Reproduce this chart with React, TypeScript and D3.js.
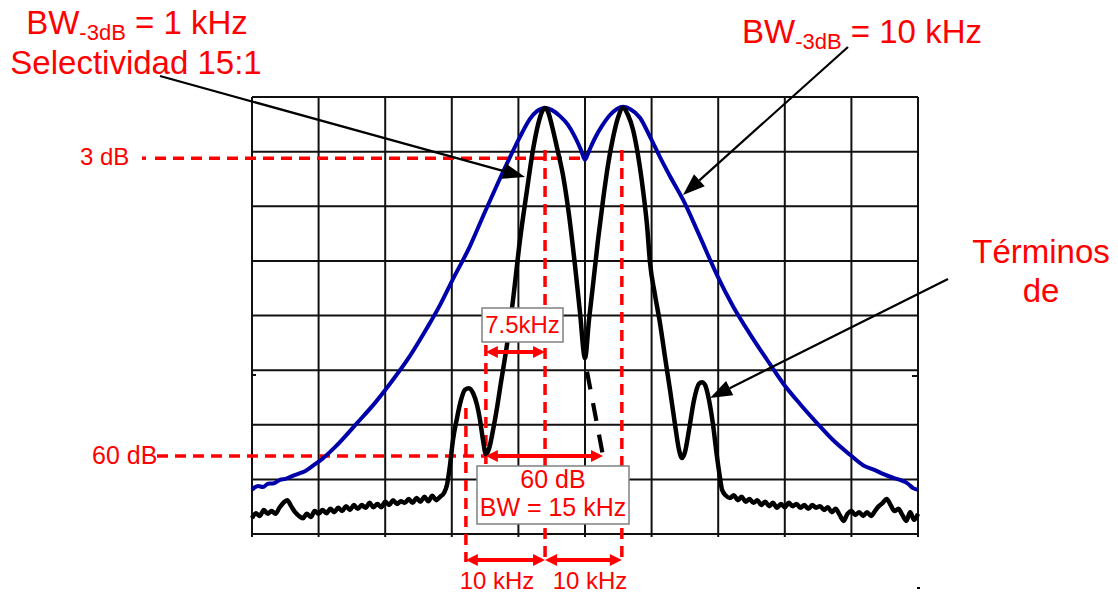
import React from 'react'
import * as d3 from 'd3'

// frequency offset from band centre (kHz), level in screen divisions (0 = bottom line)
const wideFilter: [number, number][] = [
  [-42.5, 0.81], [-41.74, 0.88], [-41.1, 0.86], [-40.46, 0.92], [-39.69, 0.93], [-38.93, 0.99],
  [-38.23, 1.01], [-37.4, 1.06], [-36.63, 1.1], [-35.74, 1.15], [-34.72, 1.25], [-33.57, 1.37],
  [-31.91, 1.59], [-29.1, 2.03], [-26.8, 2.4], [-24.89, 2.75], [-22.34, 3.26], [-20.17, 3.77],
  [-18.51, 4.19], [-16.98, 4.63], [-14.68, 5.27], [-12.76, 5.9], [-11.1, 6.43], [-9.57, 6.9],
  [-8.3, 7.27], [-7.02, 7.6], [-6.13, 7.74], [-5.1, 7.8], [-4.21, 7.76], [-3.19, 7.65],
  [-2.17, 7.49], [-1.28, 7.27], [-0.51, 7.03], [0, 6.85], [0.51, 7.01], [1.28, 7.25],
  [2.17, 7.47], [3.19, 7.67], [4.08, 7.78], [4.85, 7.82], [5.74, 7.78], [7.02, 7.62],
  [8.3, 7.27], [9.57, 6.9], [10.85, 6.55], [12.51, 6.12], [14.68, 5.44], [16.85, 4.74],
  [18.89, 4.17], [21.06, 3.66], [23.23, 3.19], [25.27, 2.76], [27.44, 2.38], [29.61, 2.03],
  [31.65, 1.72], [33.82, 1.45], [35.48, 1.26], [37.01, 1.17], [38.03, 1.1], [39.31, 1.03],
  [40.2, 0.99], [41.23, 0.92], [41.86, 0.84], [42.5, 0.81]
]

const noiseLeft: [number, number][] = [
  [-42.5, 0.29], [-42, 0.38], [-41.5, 0.33], [-41, 0.44], [-40.5, 0.37], [-40, 0.42],
  [-39.5, 0.37], [-39, 0.48], [-38.5, 0.57], [-38, 0.62], [-37.5, 0.51], [-37, 0.4],
  [-36.5, 0.33], [-36, 0.29], [-35.5, 0.37], [-35, 0.31], [-34.5, 0.42], [-34, 0.37],
  [-33.5, 0.44], [-33, 0.38], [-32.5, 0.46], [-32, 0.4], [-31.5, 0.48], [-31, 0.42],
  [-30.5, 0.51], [-30, 0.44], [-29.5, 0.53], [-29, 0.46], [-28.5, 0.53], [-28, 0.48],
  [-27.5, 0.57], [-27, 0.49], [-26.5, 0.55], [-26, 0.49], [-25.5, 0.59], [-25, 0.53],
  [-24.5, 0.62], [-24, 0.55], [-23.5, 0.6], [-23, 0.57], [-22.5, 0.64], [-22, 0.57],
  [-21.5, 0.66], [-21, 0.59], [-20.5, 0.68], [-20, 0.6], [-19.5, 0.7], [-19, 0.62],
  [-18.5, 0.68], [-18, 0.75]
]

const narrowLobes: [number, number][] = [
  [-17.61, 0.9], [-17.23, 1.26], [-16.85, 1.72], [-16.34, 2.12], [-15.83, 2.45], [-15.32, 2.64],
  [-14.81, 2.67], [-14.29, 2.58], [-13.78, 2.36], [-13.4, 2.09], [-13.02, 1.72], [-12.64, 1.46],
  [-12.25, 1.56], [-11.74, 1.9], [-11.23, 2.31], [-10.72, 2.78], [-9.96, 3.46], [-9.19, 4.28],
  [-8.3, 5.38], [-7.4, 6.3], [-6.64, 7.03], [-6.0, 7.49], [-5.49, 7.73], [-5.11, 7.8],
  [-4.72, 7.73], [-4.21, 7.47], [-3.57, 7.07], [-2.81, 6.57], [-2.04, 5.84], [-1.28, 4.92],
  [-0.64, 4.06], [0, 3.22], [0.51, 3.92], [1.02, 4.56], [1.66, 5.38], [2.3, 6.11],
  [2.94, 6.76], [3.57, 7.25], [4.21, 7.62], [4.85, 7.8], [5.49, 7.67], [6.13, 7.4],
  [6.76, 6.94], [7.4, 6.3], [7.91, 5.66], [8.3, 4.96], [8.93, 4.38], [9.57, 3.86],
  [10.21, 3.24], [10.85, 2.64], [11.49, 2.0], [12.0, 1.54], [12.38, 1.39], [12.76, 1.5],
  [13.27, 1.9], [13.91, 2.45], [14.55, 2.75], [14.93, 2.78], [15.32, 2.73], [15.83, 2.45],
  [16.34, 2.0], [16.85, 1.41], [17.23, 1.03], [17.49, 0.81], [18.0, 0.7]
]

const noiseRight: [number, number][] = [
  [18.5, 0.66], [19, 0.71], [19.5, 0.62], [20, 0.68], [20.5, 0.59], [21, 0.64],
  [21.5, 0.57], [22, 0.62], [22.5, 0.53], [23, 0.59], [23.5, 0.51], [24, 0.57],
  [24.5, 0.48], [25, 0.55], [25.5, 0.49], [26, 0.57], [26.5, 0.51], [27, 0.55],
  [27.5, 0.48], [28, 0.53], [28.5, 0.46], [29, 0.53], [29.5, 0.48], [30, 0.51],
  [30.5, 0.44], [31, 0.49], [31.5, 0.4], [32, 0.46], [32.5, 0.35], [33, 0.24],
  [33.5, 0.37], [34, 0.42], [34.5, 0.35], [35, 0.4], [35.5, 0.33], [36, 0.4],
  [36.5, 0.33], [37, 0.42], [37.5, 0.51], [38, 0.57], [38.5, 0.64], [39, 0.53],
  [39.5, 0.42], [40, 0.46], [40.5, 0.35], [41, 0.24], [41.5, 0.4], [42, 0.26], [42.5, 0.37]
]

// continuation of the left lobe below the crossing point
const hiddenSkirt: [number, number][] = [[0.26, 2.97], [2.3, 1.43]]

// marker levels and frequencies
const level3dB = 6.88
const level60dB = 1.43
const fSide = -15.2
const fInner = -12.65
const fLeftPeak = -5.1
const fSkirt = 2.3
const fRightPeak = 4.7

const RED = '#ff0000'
const FONT = "'Liberation Sans', Arial, sans-serif"

const plot = { left: 252, right: 918, top: 97, bottom: 534 }
const x = d3.scaleLinear().domain([-42.5, 42.5]).range([plot.left, plot.right])
const y = d3.scaleLinear().domain([0, 8]).range([plot.bottom, plot.top])
const gridX = d3.scaleLinear().domain([0, 10]).range([plot.left, plot.right])

const line = d3.line<[number, number]>().x(d => x(d[0])).y(d => y(d[1])).curve(d3.curveMonotoneX)
const straight = d3.line<[number, number]>().x(d => x(d[0])).y(d => y(d[1]))

function DoubleArrow({ x1, x2, yy }: { x1: number, x2: number, yy: number }) {
  const h = 12, w = 6
  return (
    <g fill={RED}>
      <line x1={x1 + h - 1} x2={x2 - h + 1} y1={yy} y2={yy} stroke={RED} strokeWidth={4} />
      <path d={`M${x1},${yy}L${x1 + h},${yy - w}L${x1 + h},${yy + w}Z`} />
      <path d={`M${x2},${yy}L${x2 - h},${yy - w}L${x2 - h},${yy + w}Z`} />
    </g>
  )
}

function Pointer({ from, to }: { from: [number, number], to: [number, number] }) {
  const len = 22, half = 8
  const dx = to[0] - from[0], dy = to[1] - from[1]
  const d = Math.hypot(dx, dy)
  const ux = dx / d, uy = dy / d
  const bx = to[0] - ux * len, by = to[1] - uy * len
  return (
    <g>
      <line x1={from[0]} y1={from[1]} x2={bx} y2={by} stroke="#000" strokeWidth={2.2} />
      <path d={`M${to[0]},${to[1]}L${bx - uy * half},${by + ux * half}L${bx + uy * half},${by - ux * half}Z`} fill="#000" />
    </g>
  )
}

export default function App() {
  const dash = '11 7'
  return (
    <svg width={1118} height={595} style={{ position: 'absolute', left: 0, top: 0, background: '#fff' }} fontFamily={FONT}>
      {/* grid */}
      <g stroke="#111" strokeWidth={2}>
        {d3.range(11).map(i => (
          <line key={'v' + i} x1={gridX(i)} x2={gridX(i)} y1={plot.top} y2={plot.bottom + 3} />
        ))}
        {d3.range(9).map(i => (
          <line key={'h' + i} x1={plot.left} x2={plot.right} y1={y(i)} y2={y(i)} />
        ))}
        <line x1={plot.left} x2={plot.left + 4} y1={375} y2={375} />
        <line x1={plot.right - 6} x2={plot.right} y1={376} y2={376} />
      </g>
      <rect x={917} y={587} width={3} height={2} fill="#000" />

      {/* red reference lines */}
      <g stroke={RED} strokeWidth={3.5} strokeDasharray={dash} fill="none">
        <line x1={142} x2={146} y1={y(level3dB)} y2={y(level3dB)} strokeDasharray="none" />
        <line x1={155} x2={x(0)} y1={y(level3dB)} y2={y(level3dB)} />
        <line x1={157} x2={x(fInner)} y1={y(level60dB)} y2={y(level60dB)} />
        <line x1={x(fSide)} x2={x(fSide)} y1={408} y2={562} />
        <line x1={x(fInner)} x2={x(fInner)} y1={345} y2={470} />
        <line x1={x(fLeftPeak)} x2={x(fLeftPeak)} y1={150} y2={562} />
        <line x1={x(fRightPeak)} x2={x(fRightPeak)} y1={150} y2={562} />
      </g>

      {/* traces */}
      <path d={line(wideFilter) ?? ''} fill="none" stroke="#0000aa" strokeWidth={4} strokeLinejoin="round" />
      <path d={line([...noiseLeft, ...narrowLobes, ...noiseRight]) ?? ''} fill="none" stroke="#000" strokeWidth={4.5} strokeLinejoin="round" />
      <path d={straight(hiddenSkirt) ?? ''} fill="none" stroke="#000" strokeWidth={4.2} strokeDasharray="18 14" />

      {/* boxes */}
      <rect x={482} y={308} width={81} height={34} fill="#fff" stroke="#808080" strokeWidth={1.5} />
      <text x={522.5} y={333} textAnchor="middle" fontSize={24} fill={RED}>7.5kHz</text>
      <rect x={477} y={466} width={152} height={58} fill="#fff" stroke="#808080" strokeWidth={1.5} />
      <text x={553} y={488} textAnchor="middle" fontSize={25} fill={RED}>60 dB</text>
      <text x={553} y={516} textAnchor="middle" fontSize={25} fill={RED}>BW = 15 kHz</text>

      {/* red span arrows */}
      <DoubleArrow x1={x(fInner)} x2={x(fLeftPeak)} yy={352} />
      <DoubleArrow x1={x(fInner)} x2={x(fSkirt)} yy={y(level60dB)} />
      <DoubleArrow x1={x(fSide)} x2={x(fLeftPeak)} yy={560} />
      <DoubleArrow x1={x(fLeftPeak)} x2={x(fRightPeak)} yy={560} />
      <text x={497} y={589} textAnchor="middle" fontSize={24} fill={RED}>10 kHz</text>
      <text x={590} y={589} textAnchor="middle" fontSize={24} fill={RED}>10 kHz</text>

      {/* level labels */}
      <text x={80} y={165} fontSize={24} fill={RED}>3 dB</text>
      <text x={92} y={464} fontSize={25} fill={RED}>60 dB</text>

      {/* callouts */}
      <text x={137} y={34} textAnchor="middle" fontSize={33} fill={RED}>
        BW<tspan fontSize={22} dy={6}>-3dB</tspan><tspan dy={-6}> = 1 kHz</tspan>
      </text>
      <text x={136} y={74} textAnchor="middle" fontSize={33} fill={RED}>Selectividad 15:1</text>
      <text x={862} y={43} textAnchor="middle" fontSize={33} fill={RED}>
        BW<tspan fontSize={22} dy={6}>-3dB</tspan><tspan dy={-6}> = 10 kHz</tspan>
      </text>
      <text x={1041} y={263} textAnchor="middle" fontSize={33} fill={RED}>Términos</text>
      <text x={1041} y={302} textAnchor="middle" fontSize={33} fill={RED}>de</text>

      <Pointer from={[160, 76]} to={[525, 177]} />
      <Pointer from={[848, 47]} to={[683, 195]} />
      <Pointer from={[948, 279]} to={[710, 398]} />
    </svg>
  )
}
